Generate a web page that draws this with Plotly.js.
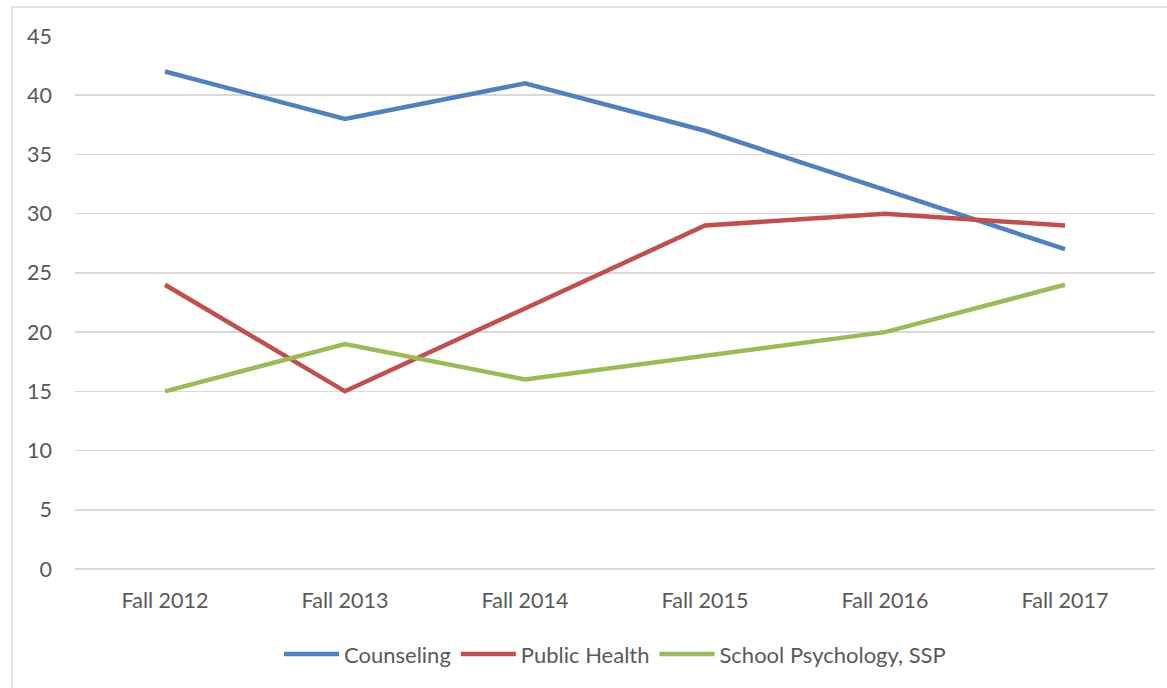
<!DOCTYPE html>
<html>
<head>
<meta charset="utf-8">
<script src="https://cdn.plot.ly/plotly-3.0.1.min.js"></script>
<style>
html,body{margin:0;padding:0;background:#fff;}
#chart{width:1167px;height:688px;}
</style>
</head>
<body>
<div id="chart"></div>
<script>
const categories = ["Fall 2012","Fall 2013","Fall 2014","Fall 2015","Fall 2016","Fall 2017"];
const counseling = [42, 38, 41, 37, 32, 27];
const publicHealth = [24, 15, 22, 29, 30, 29];
const schoolPsych = [15, 19, 16, 18, 20, 24];
const seriesNames = ["Counseling","Public Health","School Psychology, SSP"];
const yTicks = [0,5,10,15,20,25,30,35,40,45];

const colors = ["#4F81BD","#C0504D","#9BBB59"];
const allSeries = [counseling, publicHealth, schoolPsych];
const font = "Lato, 'Open Sans', sans-serif";

const traces = allSeries.map((vals, i) => ({
  type: "scatter",
  mode: "lines",
  x: categories,
  y: vals,
  name: seriesNames[i],
  line: {color: colors[i], width: 4.5, shape: "linear"},
  hoverinfo: "x+y+name"
}));

const layout = {
  width: 1167,
  height: 688,
  margin: {l: 75, r: 12, t: 36, b: 119},
  paper_bgcolor: "#fff",
  plot_bgcolor: "#fff",
  font: {family: font, size: 21, color: "#595959"},
  showlegend: true,
  legend: {
    orientation: "h",
    x: 0.5, xanchor: "center",
    yref: "container", y: 0.049, yanchor: "middle",
    font: {family: font, size: 22, color: "#595959"},
    itemwidth: 55,
    tracegroupgap: 0
  },
  xaxis: {
    type: "category",
    range: [-0.5, 5.5],
    showgrid: false,
    zeroline: false,
    showline: false,
    ticks: "",
    ticklabelstandoff: 16,
    tickfont: {family: font, size: 21.5, color: "#595959"},
    fixedrange: true
  },
  yaxis: {
    range: [0, 45],
    tickvals: yTicks,
    showgrid: true,
    gridcolor: "#d9d9d9",
    gridwidth: 1.5,
    zeroline: true,
    zerolinecolor: "#d9d9d9",
    zerolinewidth: 1.5,
    showline: false,
    ticks: "",
    ticklabelstandoff: 22,
    tickfont: {family: font, size: 21.5, color: "#595959"},
    fixedrange: true
  },
  shapes: [{
    type: "rect",
    xref: "paper", yref: "paper",
    x0: (12 - 75) / 1080, x1: 1.05,
    y0: -0.4, y1: (569 - 7) / 533,
    line: {color: "#d9d9d9", width: 1.5},
    fillcolor: "rgba(0,0,0,0)",
    layer: "below"
  }]
};

Plotly.newPlot("chart", traces, layout, {displayModeBar: false, staticPlot: true});
</script>
</body>
</html>
